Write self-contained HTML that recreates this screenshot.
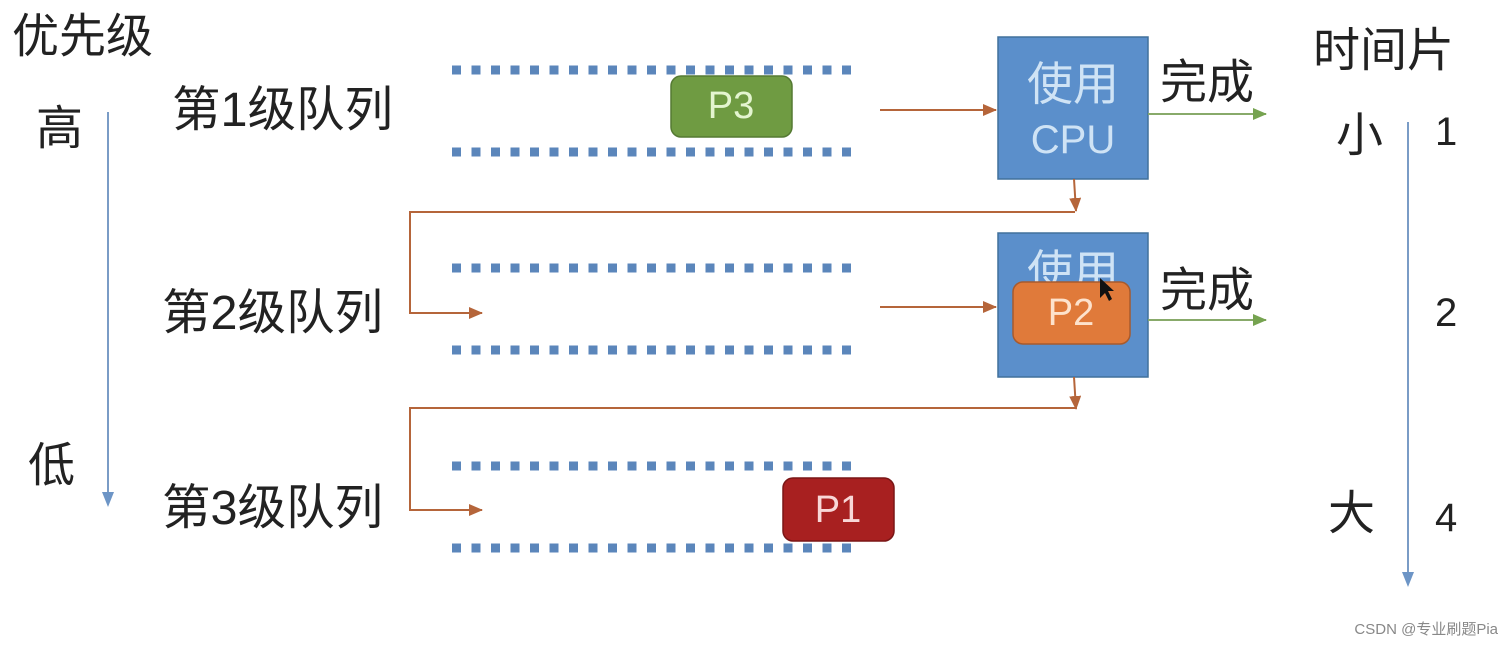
<!DOCTYPE html>
<html><head><meta charset="utf-8"><style>
html,body{margin:0;padding:0;background:#fff;}
svg{display:block;}
text{font-family:"Liberation Sans","Noto Sans CJK SC",sans-serif;}
</style></head><body>
<svg width="1512" height="653" viewBox="0 0 1512 653" xmlns="http://www.w3.org/2000/svg">
<defs>
<marker id="ao" markerWidth="14" markerHeight="12" refX="13" refY="6" orient="auto" markerUnits="userSpaceOnUse"><path d="M0,0 L14,6 L0,12 Z" fill="#b5653a"/></marker>
<marker id="ag" markerWidth="14" markerHeight="12" refX="13" refY="6" orient="auto" markerUnits="userSpaceOnUse"><path d="M0,0 L14,6 L0,12 Z" fill="#76a350"/></marker>
</defs>
<g fill="#222" font-size="47" dominant-baseline="central">
<text x="12" y="36">优先级</text>
<text x="36" y="128">高</text>
<text x="28" y="465">低</text>
<text x="172" y="110" font-size="48.5">第1级队列</text>
<text x="162" y="313" font-size="48.5">第2级队列</text>
<text x="162" y="508" font-size="48.5">第3级队列</text>
<text x="1313" y="50">时间片</text>
<text x="1336" y="135">小</text>
<text x="1328" y="513">大</text>
<text x="1160" y="82">完成</text>
<text x="1160" y="290">完成</text>
<text x="1435" y="132" font-size="40">1</text>
<text x="1435" y="313" font-size="40">2</text>
<text x="1435" y="518" font-size="40">4</text>
</g>
<line x1="108" y1="112" x2="108" y2="500" stroke="#7a9cc6" stroke-width="2"/>
<path d="M102,492 L108,507 L114,492 Z" fill="#6d95c6"/>
<line x1="1408" y1="122" x2="1408" y2="580" stroke="#7a9cc6" stroke-width="2"/>
<path d="M1402,572 L1408,587 L1414,572 Z" fill="#6d95c6"/>
<g stroke="#5b86bb" stroke-width="9" stroke-dasharray="9 10.5">
<line x1="452" y1="70" x2="856" y2="70"/>
<line x1="452" y1="152" x2="856" y2="152"/>
<line x1="452" y1="268" x2="856" y2="268"/>
<line x1="452" y1="350" x2="856" y2="350"/>
<line x1="452" y1="466" x2="856" y2="466"/>
<line x1="452" y1="548" x2="856" y2="548"/>
</g>
<rect x="998" y="37" width="150" height="142" fill="#5b8fcb" stroke="#41719c" stroke-width="1.5"/>
<text x="1073" y="84" font-size="46" fill="#cfe3f5" text-anchor="middle" dominant-baseline="central">使用</text>
<text x="1073" y="140" font-size="40" fill="#cfe3f5" text-anchor="middle" dominant-baseline="central">CPU</text>
<rect x="998" y="233" width="150" height="144" fill="#5b8fcb" stroke="#41719c" stroke-width="1.5"/>
<text x="1073" y="272" font-size="46" fill="#cfe3f5" text-anchor="middle" dominant-baseline="central">使用</text>
<g stroke="#b5653a" stroke-width="2" fill="none">
<line x1="880" y1="110" x2="996" y2="110" marker-end="url(#ao)"/>
<line x1="880" y1="307" x2="996" y2="307" marker-end="url(#ao)"/>
<line x1="1074" y1="179" x2="1076" y2="211" marker-end="url(#ao)"/>
<polyline points="1075,212 410,212 410,313 482,313" marker-end="url(#ao)"/>
<line x1="1074" y1="377" x2="1076" y2="409" marker-end="url(#ao)"/>
<polyline points="1075,408 410,408 410,510 482,510" marker-end="url(#ao)"/>
</g>
<g stroke="#88aa6a" stroke-width="2">
<line x1="1148" y1="114" x2="1266" y2="114" marker-end="url(#ag)"/>
<line x1="1148" y1="320" x2="1266" y2="320" marker-end="url(#ag)"/>
</g>
<rect x="671" y="76" width="121" height="61" rx="10" fill="#6f9b42" stroke="#557a33" stroke-width="1.5"/>
<text x="731" y="106" font-size="38" fill="#e4f5d0" text-anchor="middle" dominant-baseline="central">P3</text>
<rect x="1013" y="282" width="117" height="62" rx="10" fill="#e07a3a" stroke="#a85a2c" stroke-width="1.5"/>
<text x="1071" y="313" font-size="38" fill="#fde2cc" text-anchor="middle" dominant-baseline="central">P2</text>
<rect x="783" y="478" width="111" height="63" rx="10" fill="#a82020" stroke="#7a1616" stroke-width="1.5"/>
<text x="838" y="510" font-size="38" fill="#f8d7d7" text-anchor="middle" dominant-baseline="central">P1</text>
<path d="M1100,278 L1100,298 L1105,293 L1109,301 L1112,299 L1108,291 L1114,291 Z" fill="#111"/>
<text x="1498" y="634" font-size="15" fill="#888" text-anchor="end">CSDN @专业刷题Pia</text>
</svg>
</body></html>
